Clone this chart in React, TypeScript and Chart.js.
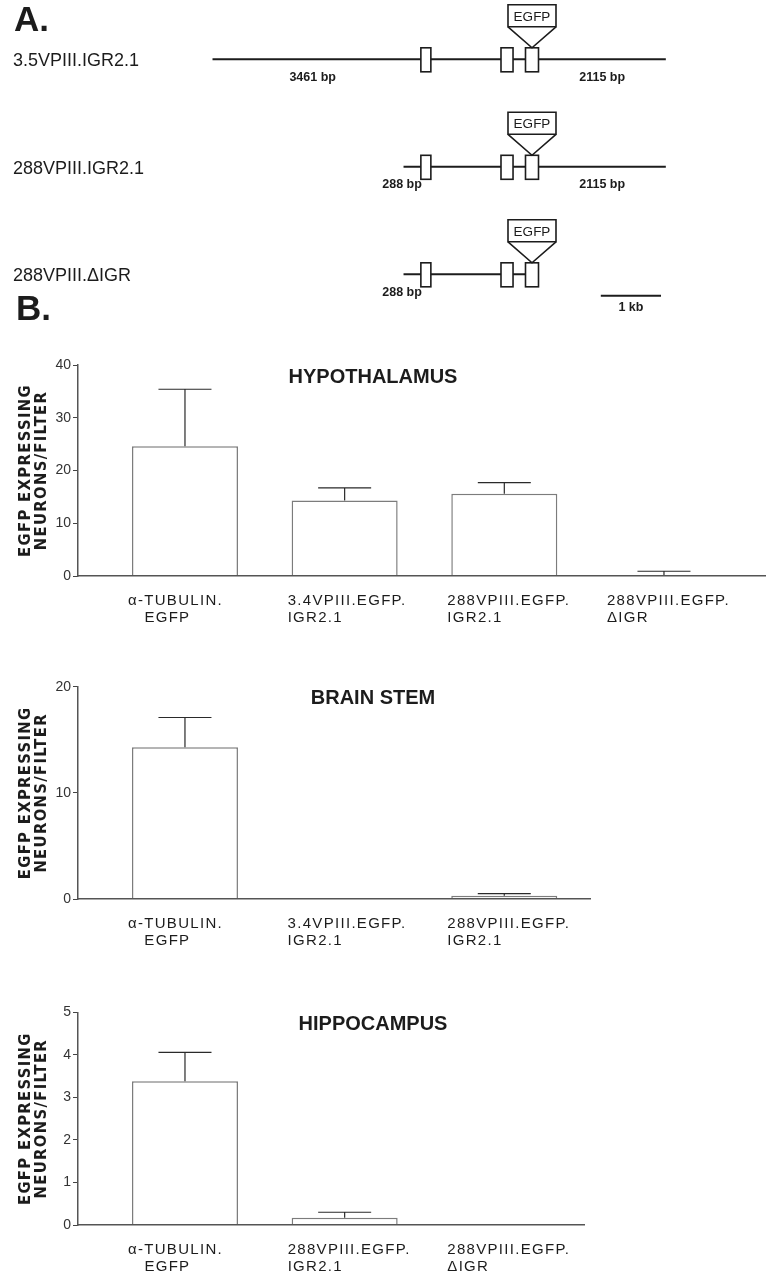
import React, { useEffect, useRef } from 'react';
import { Chart, registerables } from 'chart.js';

Chart.register(...registerables);

const FONT = "'Liberation Sans', Arial, Helvetica, sans-serif";
const NARROW = "'Liberation Sans Narrow', 'DejaVu Sans Condensed', 'Liberation Sans', sans-serif";
const INK = '#1c1c1c';

// ---------------- Panel A: constructs (positions in bp) ----------------
const CONSTRUCT_NAMES = ['3.5VPIII.IGR2.1', '288VPIII.IGR2.1', '288VPIII.\u0394IGR'];
const UPSTREAM_BP = [3461, 288, 288];
const DOWNSTREAM_BP = [2115, 2115, 0];
const EXON_START_BP = [3461, 4792, 5199];
const EXON_END_BP = [3627, 4992, 5415];
const EGFP_EXON_INDEX = 2;
const SCALE_BAR_BP = [6450, 7450];
const SCALE_BAR_LABEL = '1 kb';
const SCALE_BAR_ROW = 2.2;

// ---------------- Panel B: bar charts ----------------
const LABEL_TUBULIN = ['\u03b1-TUBULIN.', '   EGFP'];
const LABEL_34_IGR = ['3.4VPIII.EGFP.', 'IGR2.1'];
const LABEL_288_IGR = ['288VPIII.EGFP.', 'IGR2.1'];
const LABEL_288_DIGR = ['288VPIII.EGFP.', '\u0394IGR'];
const Y_TITLE = ['EGFP EXPRESSING', 'NEURONS/FILTER'];

const HYPO_TITLE = 'HYPOTHALAMUS';
const HYPO_LABELS = [LABEL_TUBULIN, LABEL_34_IGR, LABEL_288_IGR, LABEL_288_DIGR];
const HYPO_MEAN = [24.6, 14.3, 15.6, 0.2];
const HYPO_ERR = [10.8, 2.4, 2.1, 0.7];
const HYPO_TICKS = [0, 10, 20, 30, 40];

const BS_TITLE = 'BRAIN STEM';
const BS_LABELS = [LABEL_TUBULIN, LABEL_34_IGR, LABEL_288_IGR];
const BS_MEAN = [14.3, 0, 0.3];
const BS_ERR = [2.8, 0, 0.2];
const BS_TICKS = [0, 10, 20];

const HIPPO_TITLE = 'HIPPOCAMPUS';
const HIPPO_LABELS = [LABEL_TUBULIN, LABEL_288_IGR, LABEL_288_DIGR];
const HIPPO_MEAN = [3.38, 0.17, 0];
const HIPPO_ERR = [0.68, 0.13, 0];
const HIPPO_TICKS = [0, 1, 2, 3, 4, 5];

const X_MIN = -0.67;

function GeneMap() {
  const ref = useRef<HTMLCanvasElement>(null);
  useEffect(() => {
    const lastExon = EXON_END_BP.length - 1;
    const rowStart = UPSTREAM_BP.map((u) => EXON_START_BP[0] - u);
    const rowEnd = DOWNSTREAM_BP.map((d) => EXON_END_BP[lastExon] + d);
    const datasets: any[] = CONSTRUCT_NAMES.map((n, i) => ({
      label: n,
      data: [{ x: rowStart[i], y: i }, { x: rowEnd[i], y: i }],
      borderColor: INK,
      borderWidth: 2,
      pointRadius: 0,
      fill: false,
    }));
    datasets.push({
      label: 'scale',
      data: [{ x: SCALE_BAR_BP[0], y: SCALE_BAR_ROW }, { x: SCALE_BAR_BP[1], y: SCALE_BAR_ROW }],
      borderColor: INK,
      borderWidth: 2,
      pointRadius: 0,
      fill: false,
    });

    const plugin = {
      id: 'geneMap',
      afterDatasetsDraw(chart: any) {
        const { ctx } = chart;
        const xs = chart.scales.x;
        const ys = chart.scales.y;
        ctx.save();
        ctx.letterSpacing = '0px';
        ctx.fillStyle = INK;
        ctx.strokeStyle = INK;
        ctx.textBaseline = 'middle';
        ctx.textAlign = 'left';
        ctx.font = `bold 35px ${FONT}`;
        ctx.fillText('A.', 14, 21);
        ctx.fillText('B.', 16, 310);

        CONSTRUCT_NAMES.forEach((name, i) => {
          const py = ys.getPixelForValue(i);
          ctx.font = `18px ${FONT}`;
          ctx.textAlign = 'left';
          ctx.fillStyle = INK;
          ctx.fillText(name, 13, py + 2);

          ctx.lineWidth = 1.6;
          EXON_START_BP.forEach((s, k) => {
            const x0 = xs.getPixelForValue(s);
            const x1 = xs.getPixelForValue(EXON_END_BP[k]);
            ctx.fillStyle = '#fff';
            ctx.fillRect(x0, py - 11.5, x1 - x0, 24);
            ctx.strokeRect(x0, py - 11.5, x1 - x0, 24);
          });

          const ex0 = xs.getPixelForValue(EXON_START_BP[EGFP_EXON_INDEX]);
          const ex1 = xs.getPixelForValue(EXON_END_BP[EGFP_EXON_INDEX]);
          const cx = (ex0 + ex1) / 2;
          const bTop = py - 54.5;
          const bBot = py - 32.5;
          ctx.beginPath();
          ctx.rect(cx - 24, bTop, 48, bBot - bTop);
          ctx.fillStyle = '#fff';
          ctx.fill();
          ctx.stroke();
          ctx.beginPath();
          ctx.moveTo(cx - 24, bBot);
          ctx.lineTo(cx, py - 11.5);
          ctx.lineTo(cx + 24, bBot);
          ctx.stroke();
          ctx.fillStyle = INK;
          ctx.font = `13.5px ${FONT}`;
          ctx.textAlign = 'center';
          ctx.fillText('EGFP', cx, (bTop + bBot) / 2 + 1);

          ctx.font = `bold 12.5px ${FONT}`;
          const ly = py + 18;
          const up = UPSTREAM_BP[i];
          const e0 = xs.getPixelForValue(EXON_START_BP[0]);
          if (up > 1000) {
            ctx.textAlign = 'center';
            ctx.fillText(`${up} bp`, (xs.getPixelForValue(rowStart[i]) + e0) / 2 - 4, ly);
          } else {
            ctx.textAlign = 'right';
            ctx.fillText(`${up} bp`, e0 + 1, ly);
          }
          const down = DOWNSTREAM_BP[i];
          if (down > 0) {
            ctx.textAlign = 'center';
            const eEnd = xs.getPixelForValue(EXON_END_BP[lastExon]);
            ctx.fillText(`${down} bp`, (eEnd + xs.getPixelForValue(rowEnd[i])) / 2, ly);
          }
        });

        ctx.font = `bold 12.5px ${FONT}`;
        ctx.textAlign = 'center';
        const sb0 = xs.getPixelForValue(SCALE_BAR_BP[0]);
        const sb1 = xs.getPixelForValue(SCALE_BAR_BP[1]);
        ctx.fillText(SCALE_BAR_LABEL, (sb0 + sb1) / 2, ys.getPixelForValue(SCALE_BAR_ROW) + 12);
        ctx.restore();
      },
    };

    const chart = new Chart(ref.current as HTMLCanvasElement, {
      type: 'line',
      data: { datasets },
      options: {
        responsive: false,
        animation: false,
        events: [],
        layout: { padding: 0 },
        plugins: { legend: { display: false }, tooltip: { enabled: false } },
        scales: {
          x: { type: 'linear', display: false, min: -3530, max: 9194 },
          y: { type: 'linear', display: false, reverse: true, min: -0.5516, max: 2.425 },
        },
      } as any,
      plugins: [plugin],
    });
    return () => chart.destroy();
  }, []);
  return (
    <canvas
      ref={ref}
      width={766}
      height={320}
      style={{ position: 'absolute', left: 0, top: 0, width: 766, height: 320 }}
    />
  );
}

type PanelProps = {
  top: number;
  height: number;
  padTop: number;
  padRight: number;
  axisHeight: number;
  xMax: number;
  title: string;
  labels: string[][];
  means: number[];
  errs: number[];
  yTicks: number[];
};

function BarPanel(p: PanelProps) {
  const ref = useRef<HTMLCanvasElement>(null);
  useEffect(() => {
    const spacing = {
      id: 'spacing',
      beforeDraw(chart: any) {
        chart.ctx.letterSpacing = '0px';
      },
      afterDatasetsDraw(chart: any) {
        const ctx = chart.ctx;
        const meta = chart.getDatasetMeta(0);
        const ys = chart.scales.y;
        ctx.save();
        ctx.strokeStyle = '#2a2a2a';
        ctx.lineWidth = 1.2;
        meta.data.forEach((el: any, i: number) => {
          const e = p.errs[i];
          if (!e) return;
          const { x, y, width } = el.getProps(['x', 'y', 'width'], true);
          const top = ys.getPixelForValue(p.means[i] + e);
          ctx.beginPath();
          ctx.moveTo(x, y);
          ctx.lineTo(x, top);
          ctx.moveTo(x - width / 4, top);
          ctx.lineTo(x + width / 4, top);
          ctx.stroke();
        });
        ctx.restore();
        ctx.letterSpacing = '1.3px';
      },
      afterDraw(chart: any) {
        const ctx = chart.ctx;
        ctx.save();
        ctx.letterSpacing = '0px';
        ctx.font = `bold 20px ${FONT}`;
        ctx.fillStyle = INK;
        ctx.textAlign = 'center';
        ctx.textBaseline = 'middle';
        ctx.fillText(p.title, 373, chart.chartArea.top + 12);
        ctx.restore();
        ctx.letterSpacing = '0px';
      },
    };

    const chart = new Chart(ref.current as HTMLCanvasElement, {
      type: 'bar',
      data: {
        datasets: [
          {
            data: p.means.map((v, i) => ({ x: i, y: v })),
            backgroundColor: '#ffffff',
            borderColor: '#7c7c7c',
            borderWidth: 1.5,
            categoryPercentage: 1,
            barPercentage: 0.664,
          },
        ],
      },
      options: {
        responsive: false,
        animation: false,
        events: [],
        layout: { padding: { top: p.padTop, right: p.padRight, left: 0, bottom: 0 } },
        plugins: { legend: { display: false }, tooltip: { enabled: false }, title: { display: false } },
        scales: {
          x: {
            type: 'linear',
            offset: false,
            min: X_MIN,
            max: p.xMax,
            grid: { display: false, drawTicks: false },
            border: { display: true, color: '#555', width: 1.5, z: 1 },
            afterBuildTicks: (s: any) => {
              s.ticks = p.labels.map((_, i) => ({ value: i }));
            },
            afterFit: (s: any) => {
              s.height = p.axisHeight;
              s.paddingLeft = 0;
              s.paddingRight = 0;
            },
            ticks: {
              z: 1,
              autoSkip: false,
              maxRotation: 0,
              minRotation: 0,
              align: 'start',
              labelOffset: -57,
              padding: 16,
              color: INK,
              font: { family: FONT, size: 15, lineHeight: 1.15 },
              callback: (v: any) => p.labels[v] ?? '',
            },
          },
          y: {
            type: 'linear',
            min: p.yTicks[0],
            max: p.yTicks[p.yTicks.length - 1],
            afterBuildTicks: (s: any) => {
              s.ticks = p.yTicks.map((v) => ({ value: v }));
            },
            afterFit: (s: any) => {
              s.width = 78;
            },
            grid: { drawOnChartArea: false, drawTicks: true, tickLength: 5, color: '#444', z: 1 },
            border: { display: true, color: '#555', width: 1.5, z: 1 },
            ticks: { padding: 2, color: '#333', font: { family: FONT, size: 14 } },
            title: {
              display: true,
              text: Y_TITLE,
              color: INK,
              font: { family: NARROW, size: 16.5, weight: 'bold', lineHeight: 1.0 },
              padding: { top: 17, bottom: 0 },
            },
          },
        },
      } as any,
      plugins: [spacing],
    });
    return () => chart.destroy();
  }, []);
  return (
    <canvas
      ref={ref}
      width={766}
      height={p.height}
      style={{ position: 'absolute', left: 0, top: p.top, width: 766, height: p.height }}
    />
  );
}

export default function App() {
  return (
    <div style={{ position: 'absolute', left: 0, top: 0, width: 766, height: 1280, background: '#fff', overflow: 'hidden' }}>
      <GeneMap />
      <BarPanel
        top={330}
        height={310}
        padTop={35}
        padRight={0}
        axisHeight={64}
        xMax={3.639}
        title={HYPO_TITLE}
        labels={HYPO_LABELS}
        means={HYPO_MEAN}
        errs={HYPO_ERR}
        yTicks={HYPO_TICKS}
      />
      <BarPanel
        top={650}
        height={310}
        padTop={36.7}
        padRight={176}
        axisHeight={61}
        xMax={2.537}
        title={BS_TITLE}
        labels={BS_LABELS}
        means={BS_MEAN}
        errs={BS_ERR}
        yTicks={BS_TICKS}
      />
      <BarPanel
        top={975}
        height={305}
        padTop={37.3}
        padRight={182}
        axisHeight={55}
        xMax={2.499}
        title={HIPPO_TITLE}
        labels={HIPPO_LABELS}
        means={HIPPO_MEAN}
        errs={HIPPO_ERR}
        yTicks={HIPPO_TICKS}
      />
    </div>
  );
}
